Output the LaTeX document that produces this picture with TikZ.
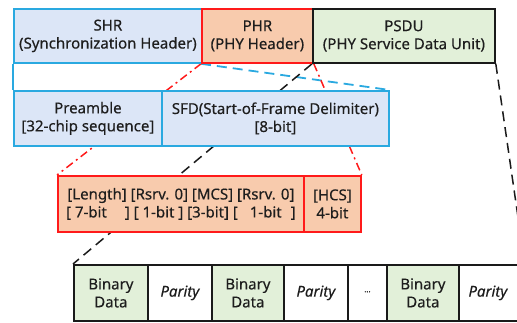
\documentclass[tikz,border=0pt]{standalone}
\usepackage{fontspec}
\setmainfont[FakeBold=0.35]{Noto Sans}
\pgfdeclarelayer{bg}
\pgfsetlayers{bg,main}
\definecolor{bbord}{HTML}{2AA9E0}
\definecolor{bfill}{HTML}{DCE6F7}
\definecolor{rbord}{HTML}{FF1A1A}
\definecolor{ofill}{HTML}{F8CBAD}
\definecolor{gfill}{HTML}{E2F0D9}
\definecolor{kbord}{HTML}{1A1A1A}
\definecolor{txt}{HTML}{1E1E1E}
\tikzset{
  box/.style={draw, line width=1.8pt, inner sep=0pt, text=txt, font=\fontsize{15}{18}\selectfont, align=center},
  bluebox/.style={box, draw=bbord, fill=bfill},
  redbox/.style={box, draw=rbord, fill=ofill},
  greenbox/.style={box, draw=kbord, fill=gfill},
  whitebox/.style={box, draw=kbord, fill=white},
  bluedash/.style={draw=bbord, line width=1.8pt, dash pattern=on 10pt off 6pt},
  reddashdot/.style={draw=rbord, line width=1.5pt, dash pattern=on 8pt off 4pt on 2pt off 4pt},
  blackdash/.style={draw=kbord, line width=1.5pt, dash pattern=on 10pt off 6pt},
}
\newcommand{\boxat}[6]{% style, name, x1, y1, x2, y2 ... text follows
  \node[#1, minimum width=#5pt-#3pt, minimum height=#6pt-#4pt, anchor=north west] (#2) at (#3,#4)}
\begin{document}
\begin{tikzpicture}[x=1pt,y=-1pt]
\useasboundingbox (0,0) rectangle (517,322);
\clip (0,0) rectangle (517,322);
% top row
\boxat{bluebox}{shr}{13}{8}{201}{62} {SHR\\(Synchronization Header)};
\boxat{redbox}{phr}{201}{8}{312}{62} {PHR\\(PHY Header)};
\boxat{greenbox}{psdu}{312}{8}{494}{62} {PSDU\\(PHY Service Data Unit)};
% second row
\boxat{bluebox}{pre}{13}{90}{161}{145} {Preamble\\{[}32-chip sequence{]}};
\boxat{bluebox}{sfd}{161}{90}{388}{145} {SFD(Start-of-Frame Delimiter)\\{[}8-bit{]}};
% third row
\boxat{redbox}{len}{57}{175}{303}{231} {{[}Length{]} {[}Rsrv. 0{]} {[}MCS{]} {[}Rsrv. 0{]}\\{[} 7-bit\hspace{1.2em}{]} {[} 1-bit {]} {[}3-bit{]} {[}\hspace{0.8em}1-bit\hspace{0.6em}{]}};
\boxat{redbox}{hcs}{303}{175}{360}{231} {{[}HCS{]}\\4-bit};
% bottom row
\boxat{greenbox}{c1}{73}{264}{147}{320} {Binary\\Data};
\boxat{whitebox}{c2}{147}{264}{211}{320} {\itshape Parity};
\boxat{greenbox}{c3}{211}{264}{283}{320} {Binary\\Data};
\boxat{whitebox}{c4}{283}{264}{347}{320} {\itshape Parity};
\boxat{whitebox}{c5}{347}{264}{386}{320} {\raisebox{0.3ex}{\footnotesize\bfseries ...}};
\boxat{greenbox}{c6}{386}{264}{458}{320} {Binary\\Data};
\boxat{whitebox}{c7}{458}{264}{523}{320} {\hspace*{-7pt}\itshape Parity};
% connectors
\begin{pgfonlayer}{bg}
\draw[draw=bbord, line width=1.8pt] (shr.south west) -- (pre.north west);
\draw[bluedash] (phr.south west) -- (sfd.north east);
\draw[reddashdot] (phr.south west) -- (len.north west);
\draw[reddashdot] (phr.south east) -- (hcs.north east);
\draw[blackdash] (psdu.south west) -- (c1.north west);
\draw[blackdash] (psdu.south east) -- (c7.north east);
\end{pgfonlayer}
\end{tikzpicture}
\end{document}
